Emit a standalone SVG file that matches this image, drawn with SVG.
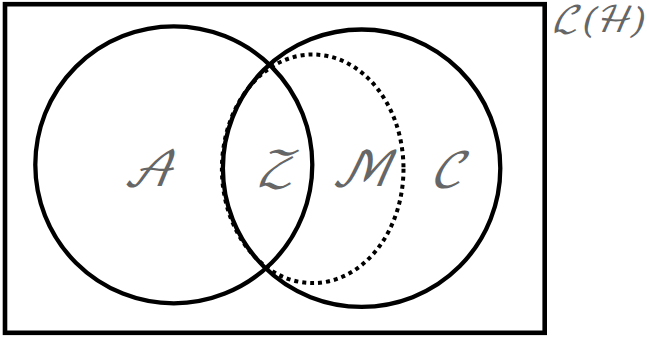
<svg xmlns="http://www.w3.org/2000/svg" width="649" height="337" viewBox="0 0 649 337">
<style>
.frame{fill:none;stroke:#000;stroke-width:4.6}
.set{fill:none;stroke:#000;stroke-width:4.3}
.dot{fill:none;stroke:#000;stroke-width:4;stroke-dasharray:4 4}
.lbl{font-family:"DejaVu Math TeX Gyre","DejaVu Serif","Noto Sans",serif;font-style:italic;fill:#666;text-anchor:middle}
</style>
<rect width="649" height="337" fill="#fff"/>
<g id="space">
<rect class="frame" x="5" y="4.2" width="539.7" height="328.6"/>
<text class="lbl" x="598" y="32" font-size="36">ℒ(ℋ)</text>
</g>
<g id="sets">
<g id="A"><circle class="set" cx="173.8" cy="164.8" r="138.5"/><text class="lbl" x="148" y="186" font-size="48">𝒜</text></g>
<g id="C"><circle class="set" cx="361.6" cy="168.2" r="138.7"/><text class="lbl" x="447" y="187" font-size="48">𝒞</text></g>
<g id="M"><ellipse class="dot" cx="312.7" cy="168.8" rx="90.8" ry="114.3"/><text class="lbl" x="361" y="186" font-size="48">ℳ</text></g>
<g id="Z"><text class="lbl" x="275" y="186" font-size="48">𝒵</text></g>
</g>
</svg>
